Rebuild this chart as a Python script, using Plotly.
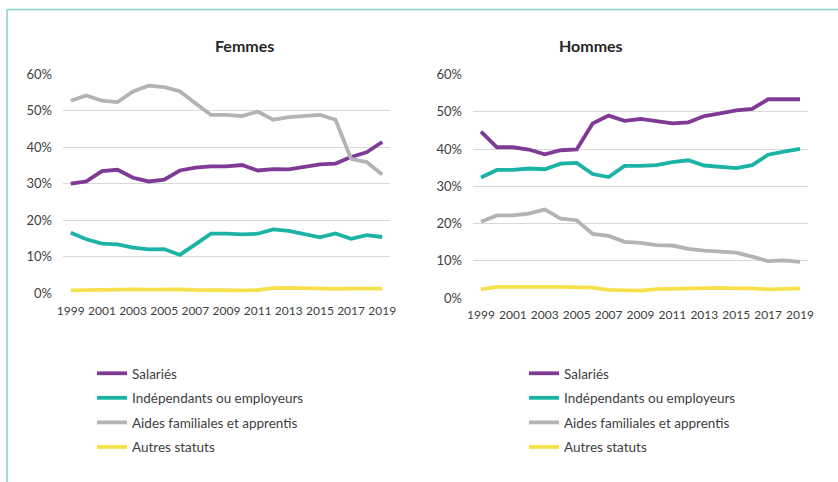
import plotly.graph_objects as go

years = list(range(1999, 2020))
series_names = ["Salariés", "Indépendants ou employeurs", "Aides familiales et apprentis", "Autres statuts"]
colors = ["#7F3A96", "#1BB3A6", "#B3B3B6", "#F6E04C"]

femmes_salaries = [30.0, 30.6, 33.4, 33.8, 31.6, 30.6, 31.1, 33.6, 34.4, 34.7, 34.7, 35.1, 33.6, 34.0, 33.9, 34.5, 35.3, 35.5, 37.3, 38.6, 41.4]
femmes_independants = [16.6, 14.8, 13.6, 13.4, 12.5, 12.0, 12.1, 10.5, 13.4, 16.3, 16.3, 16.1, 16.3, 17.5, 17.1, 16.2, 15.3, 16.4, 14.9, 15.9, 15.4]
femmes_aides = [52.7, 54.1, 52.7, 52.3, 55.2, 56.8, 56.4, 55.3, 52.0, 48.8, 48.8, 48.5, 49.7, 47.5, 48.2, 48.5, 48.8, 47.5, 36.8, 35.9, 32.5]
femmes_autres = [0.8, 0.9, 0.9, 1.0, 1.1, 1.0, 1.1, 1.1, 0.9, 0.8, 0.8, 0.8, 0.9, 1.4, 1.5, 1.4, 1.2, 1.2, 1.3, 1.3, 1.3]

hommes_salaries = [44.7, 40.5, 40.5, 39.9, 38.6, 39.7, 39.9, 46.9, 49.0, 47.6, 48.1, 47.6, 46.9, 47.2, 48.9, 49.6, 50.4, 50.8, 53.4, 53.4, 53.4]
hommes_independants = [32.4, 34.4, 34.4, 34.8, 34.6, 36.1, 36.3, 33.3, 32.5, 35.5, 35.5, 35.7, 36.5, 37.0, 35.6, 35.3, 34.9, 35.7, 38.5, 39.3, 40.1]
hommes_aides = [20.5, 22.2, 22.2, 22.7, 23.8, 21.3, 20.9, 17.2, 16.7, 15.1, 14.8, 14.2, 14.1, 13.2, 12.7, 12.4, 12.2, 11.1, 9.9, 10.1, 9.7]
hommes_autres = [2.3, 3.0, 3.0, 2.9, 3.0, 3.0, 2.9, 2.8, 2.2, 2.1, 2.0, 2.4, 2.5, 2.7, 2.8, 2.7, 2.6, 2.6, 2.3, 2.4, 2.6]

y_ticks = [0, 10, 20, 30, 40, 50, 60]
y_ticktext = ["0%", "10%", "20%", "30%", "40%", "50%", "60%"]
x_ticks = list(range(1999, 2020, 2))
panel_titles = ["Femmes", "Hommes"]

W, H = 838, 482
FONT = "Lato, 'Open Sans', sans-serif"
TXT = "#404040"

def px_x(p):
    return p / W

def px_y(p):
    return 1 - p / H

fig = go.Figure()

femmes = [femmes_salaries, femmes_independants, femmes_aides, femmes_autres]
hommes = [hommes_salaries, hommes_independants, hommes_aides, hommes_autres]

for i, (name, vals) in enumerate(zip(series_names, femmes)):
    fig.add_trace(go.Scatter(x=years, y=vals, name=name, mode="lines",
                             line=dict(color=colors[i], width=3.8),
                             xaxis="x", yaxis="y", legend="legend",
                             legendgroup=f"f{i}"))
for i, (name, vals) in enumerate(zip(series_names, hommes)):
    fig.add_trace(go.Scatter(x=years, y=vals, name=name, mode="lines",
                             line=dict(color=colors[i], width=3.8),
                             xaxis="x2", yaxis="y2", legend="legend2",
                             legendgroup=f"h{i}"))

xcommon = dict(range=[1998.5, 2019.5], tickvals=x_ticks, ticktext=[str(v) for v in x_ticks],
               showgrid=False, zeroline=False, showline=False, tickangle=0, automargin=False,
               ticks="outside", ticklen=6, tickcolor="rgba(0,0,0,0)",
               tickfont=dict(family=FONT, size=12, color=TXT), fixedrange=True)
ycommon = dict(range=[0, 60], tickvals=y_ticks, ticktext=y_ticktext, automargin=False,
               showgrid=True, gridcolor="#D9D9D9", gridwidth=1, zeroline=False, showline=False,
               ticks="", ticklabelstandoff=10,
               tickfont=dict(family=FONT, size=13, color=TXT), fixedrange=True)

fig.update_layout(
    template="none",
    width=W, height=H,
    margin=dict(l=0, r=0, t=0, b=0, autoexpand=False),
    paper_bgcolor="white", plot_bgcolor="white",
    showlegend=True,
    xaxis=dict(domain=[px_x(63), px_x(390)], anchor="y", **xcommon),
    yaxis=dict(domain=[px_y(293.3), px_y(74)], anchor="x", **ycommon),
    xaxis2=dict(domain=[px_x(473), px_x(808)], anchor="y2", **xcommon),
    yaxis2=dict(domain=[px_y(298), px_y(74.7)], anchor="x2", **ycommon),
    legend=dict(x=px_x(92), y=px_y(358), xanchor="left", yanchor="top",
                traceorder="grouped", tracegroupgap=4,
                font=dict(family=FONT, size=13.5, color=TXT), bgcolor="rgba(0,0,0,0)"),
    legend2=dict(x=px_x(524), y=px_y(358), xanchor="left", yanchor="top",
                 traceorder="grouped", tracegroupgap=4,
                 font=dict(family=FONT, size=13.5, color=TXT), bgcolor="rgba(0,0,0,0)"),
    annotations=[
        dict(text=f"<b>{panel_titles[0]}</b>", x=px_x(213), y=px_y(34), xref="paper", yref="paper",
             showarrow=False, font=dict(family=FONT, size=16, color="#262626")),
        dict(text=f"<b>{panel_titles[1]}</b>", x=px_x(625), y=px_y(34), xref="paper", yref="paper",
             showarrow=False, font=dict(family=FONT, size=16, color="#262626")),
    ],
    shapes=[
        dict(type="line", xref="paper", yref="paper", x0=px_x(7), x1=1.0, y0=px_y(9.5), y1=px_y(9.5),
             line=dict(color="#86D0CE", width=1.5)),
        dict(type="line", xref="paper", yref="paper", x0=px_x(7), x1=px_x(7), y0=0, y1=px_y(9.5),
             line=dict(color="#86D0CE", width=1.5)),
    ],
)

fig.write_html("out.html", config={"displayModeBar": False},
               post_script="document.body.style.margin='0';")
